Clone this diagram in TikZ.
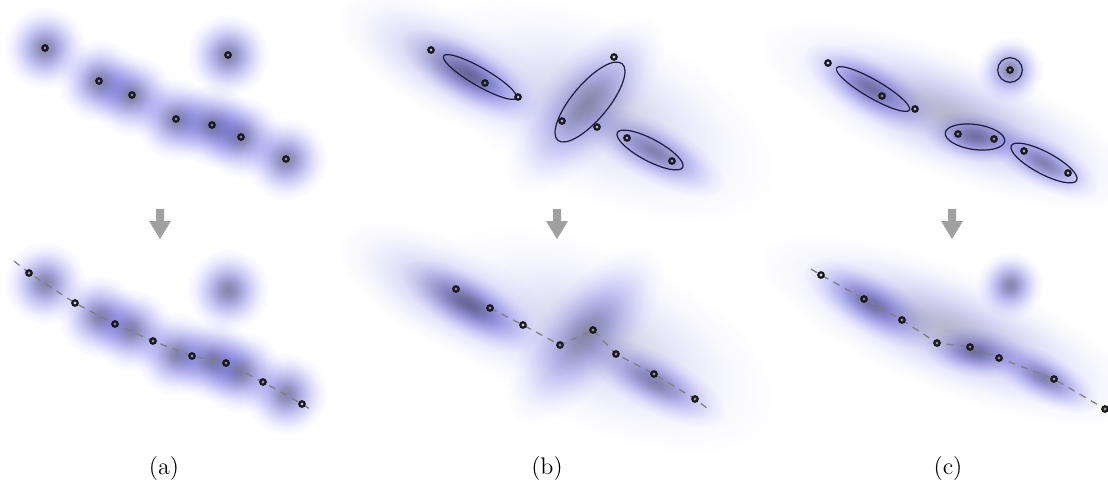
\documentclass[tikz,border=0pt]{standalone}
\usetikzlibrary{shapes.geometric}
\definecolor{g0}{RGB}{132,132,172}
\definecolor{g1}{RGB}{146,146,190}
\definecolor{g2}{RGB}{170,170,222}
\definecolor{g3}{RGB}{198,198,242}
\definecolor{g4}{RGB}{222,222,250}
\definecolor{g5}{RGB}{242,242,254}
\definecolor{ellc}{RGB}{28,28,62}
\definecolor{arrc}{RGB}{160,160,160}
\definecolor{dashc}{RGB}{128,128,128}
\pgfdeclareradialshading{gauss}{\pgfpointorigin}{color(0bp)=(g0); color(4bp)=(g1); color(8bp)=(g2); color(12bp)=(g3); color(16bp)=(g4); color(20bp)=(g5); color(25bp)=(white); color(50bp)=(white)}
\newcommand\gblob[6]{\begin{scope}[transform canvas={shift={(#1,#2)},rotate=#5}]\shade[shading=gauss,opacity=#6] (0,0) ellipse (#3 and #4);\end{scope}}
\newcommand\downarr[1]{\fill[arrc] (#1-4,209) -- (#1+4,209) -- (#1+4,221) -- (#1+11,221) -- (#1,239) -- (#1-11,221) -- (#1-4,221) -- cycle;}
\pgfdeclarelayer{blobs}
\pgfdeclarelayer{lines}
\pgfsetlayers{blobs,lines,main}
\begin{document}
\begin{tikzpicture}[x=0.5pt,y=-0.5pt,
  pt/.style={circle,draw=black!90,line width=1.1pt,inner sep=0pt,minimum size=2.7pt},
  ell/.style={ellipse,draw=ellc,line width=0.6pt,inner sep=0pt},
  dline/.style={draw=dashc,line width=0.65pt,dash pattern=on 3.5pt off 3pt},
  lab/.style={font=\fontsize{12}{14}\selectfont}]
\begin{pgfonlayer}{blobs}
\fill[white] (0,0) rectangle (1108,479);
\begin{scope}[blend mode=multiply]
% panel a top
\foreach \x/\y in {45/48,228/55,99/81,132/95,176/119,212/125,241/137,286/159}{\gblob{\x}{\y}{42}{42}{0}{1}}
% panel a bottom
\foreach \x/\y in {45/283,228/290,99/316,132/330,176/354,212/360,241/372,286/394}{\gblob{\x}{\y}{42}{42}{0}{1}}
% panel b top and bottom
\foreach \dy in {0,230}{
\gblob{600}{110+\dy}{190}{90}{-25}{0.38}
\gblob{450}{65+\dy}{125}{52}{-28}{0.5}
\gblob{470}{75+\dy}{78}{30}{-30}{1}
\gblob{585}{105+\dy}{110}{46}{50}{0.75}
\gblob{655}{152+\dy}{80}{30}{-28}{0.9}
}
% panel c top and bottom
\foreach \dy in {0,215}{
\gblob{950}{115+\dy}{205}{62}{-22}{0.6}
\gblob{870}{88+\dy}{75}{30}{-30}{1}
\gblob{1010}{70+\dy}{34}{34}{0}{1}
\gblob{975}{137+\dy}{52}{25}{-8}{0.9}
\gblob{1044}{163+\dy}{62}{25}{-28}{0.9}
}
\end{scope}
\end{pgfonlayer}
\useasboundingbox (0,0) rectangle (1108,479);
% ellipses
\node[ell,minimum width=42pt,minimum height=9pt,rotate=-30] (be1) at (480,77) {};
\node[ell,minimum width=50pt,minimum height=18pt,rotate=50] (be2) at (590,102) {};
\node[ell,minimum width=37pt,minimum height=11pt,rotate=-28] (be3) at (650,150) {};
\node[ell,minimum width=42pt,minimum height=9pt,rotate=-30] (ce1) at (873,89) {};
\node[ell,minimum width=12.3pt,minimum height=12.3pt] (ce0) at (1010,70) {};
\node[ell,minimum width=30pt,minimum height=12.5pt,rotate=-8] (ce2) at (975,137) {};
\node[ell,minimum width=37pt,minimum height=11pt,rotate=-28] (ce3) at (1044,163) {};
% points
\foreach \n/\x/\y in {a1/45/48,a2/228/55,a3/99/81,a4/132/95,a5/176/119,a6/212/125,a7/241/137,a8/286/159,
  A1/29/273,A2/75/303,A3/115/324,A4/153/341,A5/192/356,A6/226/363,A7/263/382,A8/302/404,
  b1/431/50,b2/485/83,b3/518/97,b4/614/57,b5/562/121,b6/597/127,b7/627/138,b8/672/161,
  B1/456/289,B2/490/308,B3/523/325,B4/560/345,B5/593/330,B6/616/354,B7/654/374,B8/695/399,
  c1/828/63,c2/882/96,c3/915/109,c4/1010/70,c5/958/134,c6/994/139,c7/1024/151,c8/1068/173,
  C1/821/275,C2/864/299,C3/902/320,C4/937/343,C5/970/347,C6/999/358,C7/1054/379,C8/1105/409}
  {\node[pt] (\n) at (\x,\y) {};}
\coordinate (As) at (14,261);
\coordinate (Ae) at (310,409);
\coordinate (Be) at (711,411);
\coordinate (Cs) at (811,269);
\coordinate (Ce) at (1112,411);
\begin{pgfonlayer}{lines}
\draw[dline] (As) -- (A1.center) -- (A2.center) -- (A3.center) -- (A4.center) -- (A5.center) -- (A6.center) -- (A7.center) -- (A8.center) -- (Ae);
\draw[dline] (B1.center) -- (B2.center) -- (B3.center) -- (B4.center) -- (B5.center) -- (B6.center) -- (B7.center) -- (B8.center) -- (Be);
\draw[dline] (Cs) -- (C1.center) -- (C2.center) -- (C3.center) -- (C4.center) -- (C5.center) -- (C6.center) -- (C7.center) -- (C8.center) -- (Ce);
\end{pgfonlayer}
% arrows
\downarr{160}
\downarr{557}
\downarr{952}
% labels
\node[lab] (la) at (164,468) {(a)};
\node[lab] (lb) at (547,468) {(b)};
\node[lab] (lc) at (948,468) {(c)};
\end{tikzpicture}
\end{document}
